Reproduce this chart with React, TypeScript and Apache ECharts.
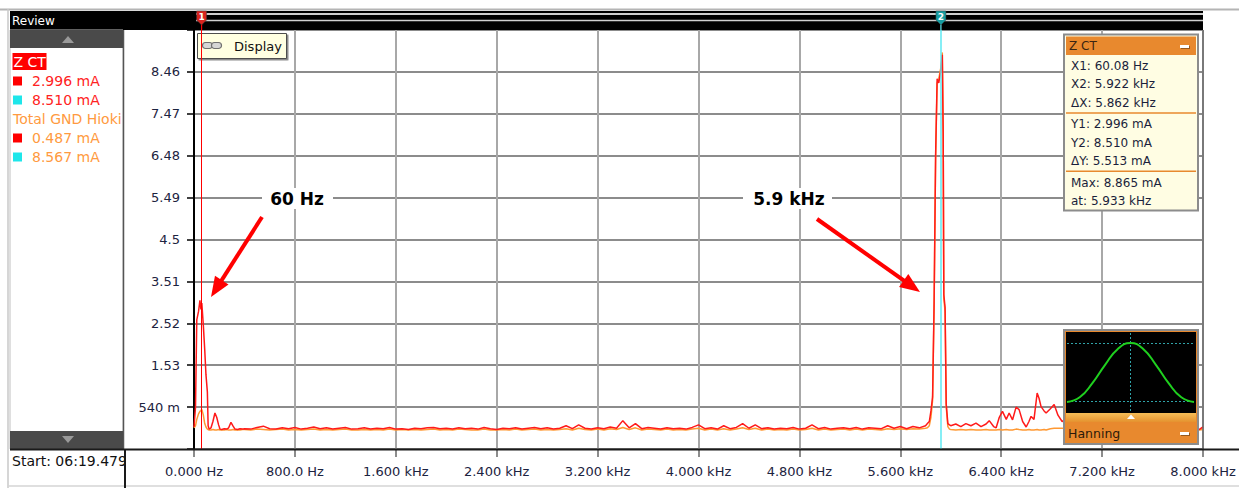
import React, { useEffect, useRef } from "react";
import * as echarts from "echarts";

// ---- axes -------------------------------------------------------------
const xMax = 8000;
const xStep = 800;
const xTickLabels = [
  "0.000 Hz", "800.0 Hz", "1.600 kHz", "2.400 kHz", "3.200 kHz", "4.000 kHz",
  "4.800 kHz", "5.600 kHz", "6.400 kHz", "7.200 kHz", "8.000 kHz",
];
const yMin = -0.45;
const yMax = 9.45;
const yStep = 0.99;
const yTickValues = [0.54, 1.53, 2.52, 3.51, 4.5, 5.49, 6.48, 7.47, 8.46];
const yTickLabels = ["540 m", "1.53", "2.52", "3.51", "4.5", "5.49", "6.48", "7.47", "8.46"];

// ---- spectrum (Hz / mA) ------------------------------------------------
// 0 – 400 Hz, around the mains line
const freqLow = [0, 12, 22, 36, 47, 55, 62, 74, 85, 95, 106, 112, 120, 135, 150, 166, 180, 195, 206, 220, 240, 260, 275, 293, 310, 325, 345, 365, 385];
const zctLow = [0.07, 0.54, 2.6, 2.8, 3.06, 2.85, 2.996, 2.47, 1.9, 1.3, 0.9, 0.1, 0.02, 0.05, 0.2, 0.4, 0.3, 0.12, 0.02, 0.01, 0.03, 0.02, 0.05, 0.18, 0.09, 0.02, 0.01, 0.03, 0.02];
const gndLow = [0.05, 0.1, 0.25, 0.38, 0.44, 0.46, 0.487, 0.35, 0.15, 0.07, 0.02, 0.01, 0.0, 0.0, 0.01, 0.0, 0.0, 0.01, 0.0, 0.0, 0.0, 0.01, 0.0, 0.0, 0.01, 0.0, 0.0, 0.0, 0.01];

// 400 – 5750 Hz noise floor
const freqMid = [
  400, 450, 500, 550, 600, 650, 700, 750, 800, 850,
  900, 950, 1000, 1050, 1100, 1150, 1200, 1250, 1300, 1350,
  1400, 1450, 1500, 1550, 1600, 1650, 1700, 1750, 1800, 1850,
  1900, 1950, 2000, 2050, 2100, 2150, 2200, 2250, 2300, 2350,
  2400, 2450, 2500, 2550, 2600, 2650, 2700, 2750, 2800, 2850,
  2900, 2950, 3000, 3050, 3100, 3150, 3200, 3250, 3300, 3350,
  3400, 3450, 3500, 3550, 3600, 3650, 3700, 3750, 3800, 3850,
  3900, 3950, 4000, 4050, 4100, 4150, 4200, 4250, 4300, 4350,
  4400, 4450, 4500, 4550, 4600, 4650, 4700, 4750, 4800, 4850,
  4900, 4950, 5000, 5050, 5100, 5150, 5200, 5250, 5300, 5350,
  5400, 5450, 5500, 5550, 5600, 5650, 5700, 5750,
];
const zctMid = [
  0.03, 0.02, 0.06, 0.09, 0.03, 0.02, 0.05, 0.03, 0.06, 0.02,
  0.04, 0.07, 0.03, 0.05, 0.02, 0.04, 0.06, 0.02, 0.03, 0.05,
  0.02, 0.04, 0.03, 0.06, 0.02, 0.03, 0.01, 0.04, 0.03, 0.05,
  0.06, 0.03, 0.04, 0.02, 0.05, 0.03, 0.04, 0.02, 0.06, 0.03,
  0.01, 0.04, 0.03, 0.05, 0.02, 0.04, 0.06, 0.03, 0.05, 0.02,
  0.04, 0.1, 0.03, 0.12, 0.04, 0.02, 0.05, 0.03, 0.07, 0.04,
  0.22, 0.05, 0.15, 0.03, 0.06, 0.04, 0.02, 0.05, 0.03, 0.04,
  0.02, 0.06, 0.12, 0.03, 0.05, 0.02, 0.1, 0.03, 0.06, 0.15,
  0.04, 0.12, 0.03, 0.05, 0.02, 0.04, 0.03, 0.06, 0.02, 0.04,
  0.12, 0.03, 0.06, 0.02, 0.04, 0.05, 0.03, 0.06, 0.02, 0.05,
  0.04, 0.03, 0.1, 0.04, 0.08, 0.03, 0.08, 0.05,
];
const gndMid = [
  0.01, 0.0, 0.02, 0.01, 0.0, 0.01, 0.02, 0.0, 0.01, 0.0,
  0.01, 0.02, 0.0, 0.01, 0.0, 0.01, 0.02, 0.0, 0.0, 0.01,
  0.0, 0.01, 0.0, 0.02, 0.0, 0.01, 0.0, 0.01, 0.0, 0.01,
  0.02, 0.0, 0.01, 0.0, 0.02, 0.01, 0.0, 0.0, 0.02, 0.0,
  0.0, 0.01, 0.0, 0.02, 0.0, 0.01, 0.02, 0.0, 0.01, 0.0,
  0.01, 0.03, 0.0, 0.04, 0.01, 0.0, 0.02, 0.0, 0.03, 0.01,
  0.06, 0.01, 0.05, 0.0, 0.02, 0.01, 0.0, 0.02, 0.0, 0.01,
  0.0, 0.02, 0.04, 0.0, 0.02, 0.0, 0.03, 0.0, 0.02, 0.05,
  0.01, 0.04, 0.0, 0.02, 0.0, 0.01, 0.0, 0.02, 0.0, 0.01,
  0.04, 0.0, 0.02, 0.0, 0.01, 0.02, 0.0, 0.02, 0.0, 0.02,
  0.01, 0.0, 0.03, 0.01, 0.03, 0.01, 0.03, 0.02,
];

// 5.8 – 6.0 kHz, the switching line
const freqPeak = [5800, 5815, 5830, 5843, 5856, 5868, 5880, 5892, 5905, 5922, 5933, 5940, 5945, 5955, 5964, 5977, 5990];
const zctPeak = [0.1, 0.15, 0.2, 0.45, 0.78, 3.0, 6.5, 8.3, 8.2, 8.51, 8.865, 7.0, 3.2, 2.9, 0.62, 0.15, 0.12];
const gndPeak = [0.04, 0.05, 0.1, 0.3, 0.7, 2.9, 6.4, 8.2, 8.3, 8.567, 8.92, 7.1, 3.1, 2.8, 0.55, 0.08, 0.02];

// 6.0 – 8.0 kHz
const freqHigh = [
  6000, 6040, 6080, 6120, 6160, 6200, 6240, 6280, 6305, 6340,
  6360, 6385, 6410, 6440, 6463, 6490, 6518, 6542, 6570, 6598,
  6620, 6637, 6660, 6685, 6700, 6716, 6740, 6756, 6790, 6820,
  6850, 6883, 6920, 6960, 7000, 7080, 7160, 7240, 7320, 7400,
  7480, 7560, 7640, 7720, 7800, 7880, 7940, 7968, 8000,
];
const zctHigh = [
  0.1, 0.14, 0.08, 0.15, 0.1, 0.16, 0.08, 0.14, 0.22, 0.08,
  0.05, 0.3, 0.44, 0.25, 0.4, 0.24, 0.54, 0.48, 0.2, 0.07,
  0.2, 0.32, 0.25, 0.87, 0.75, 0.55, 0.45, 0.4, 0.5, 0.6,
  0.35, 0.2, 0.25, 0.15, 0.2, 0.12, 0.18, 0.1, 0.15, 0.08,
  0.12, 0.06, 0.1, 0.05, 0.08, 0.04, 0.03, 0.01, 0.07,
];
const gndHigh = [
  0.01, 0.0, 0.01, 0.0, 0.01, 0.0, 0.0, 0.01, 0.0, 0.0,
  0.0, 0.01, 0.0, 0.01, 0.0, 0.0, 0.02, 0.01, 0.0, 0.0,
  0.01, 0.0, 0.0, 0.01, 0.0, 0.0, 0.01, 0.0, 0.03, 0.04,
  0.04, 0.04, 0.03, 0.04, 0.05, 0.04, 0.03, 0.04, 0.03, 0.02,
  0.03, 0.02, 0.02, 0.01, 0.02, 0.01, 0.01, 0.0, 0.01,
];

// ---- cursors and readouts ----------------------------------------------
const cursorFreqs = [60.08, 5922];
const zctCursorValues = [2.996, 8.51];
const gndCursorValues = [0.487, 8.567];
const zctReadout = [
  ["X1: 60.08 Hz", "X2: 5.922 kHz", "\u0394X: 5.862 kHz"],
  ["Y1: 2.996 mA", "Y2: 8.510 mA", "\u0394Y: 5.513 mA"],
  ["Max: 8.865 mA", "at: 5.933 kHz"],
];
const startTime = "Start: 06:19.479";

// Hanning window preview (normalised position / gain)
const hanningPos = [0, 0.1, 0.2, 0.3, 0.4, 0.5, 0.6, 0.7, 0.8, 0.9, 1];
const hanningGain = [0, 0.08, 0.32, 0.63, 0.9, 1, 0.9, 0.63, 0.32, 0.08, 0];

const FONT = '"DejaVu Sans", Verdana, sans-serif';
const RED = "#ff1a1a";
const ORANGE = "#ff9933";
const CURSOR_COLORS = ["#ff0000", "#5ee9f2"];
const HANDLE_COLORS = ["#d8241f", "#169ca0"];

const zip = (xs: number[], ys: number[]) => xs.map((x, i) => [x, ys[i]]);

function text(x: number, y: number, s: string, fill: string, size: number, extra: any = {}) {
  return {
    type: "text",
    x,
    y,
    z: extra.z ?? 50,
    silent: true,
    style: {
      text: s,
      fill,
      fontSize: size,
      fontFamily: extra.family ?? FONT,
      fontWeight: extra.weight ?? "normal",
      align: extra.align ?? "left",
      verticalAlign: "middle",
    },
  };
}

function rect(x: number, y: number, w: number, h: number, style: any, z = 50) {
  return { type: "rect", z, silent: true, shape: { x, y, width: w, height: h }, style };
}

function line(x1: number, y1: number, x2: number, y2: number, stroke: string, lineWidth: number, z = 50, lineDash?: number[]) {
  return { type: "line", z, silent: true, shape: { x1, y1, x2, y2 }, style: { stroke, lineWidth, lineDash } };
}

function arrow(x0: number, y0: number, x1: number, y1: number) {
  const dx = x1 - x0;
  const dy = y1 - y0;
  const len = Math.hypot(dx, dy);
  const ux = dx / len;
  const uy = dy / len;
  const head = 20;
  const half = 8;
  const bx = x1 - ux * head;
  const by = y1 - uy * head;
  return [
    line(x0, y0, bx + ux * 3, by + uy * 3, "#ff0000", 4, 50),
    {
      type: "polygon",
      z: 50,
      silent: true,
      shape: { points: [[x1, y1], [bx - uy * half, by + ux * half], [bx + uy * half, by - ux * half]] },
      style: { fill: "#ff0000" },
    },
  ];
}

function minusIcon(x: number, y: number) {
  return rect(x, y, 9, 3, { fill: "#ffffff", shadowColor: "rgba(0,0,0,0.35)", shadowOffsetX: 1, shadowOffsetY: 1 }, 52);
}

export default function App() {
  const ref = useRef<HTMLDivElement>(null);

  useEffect(() => {
    const el = ref.current;
    if (!el) return;
    const chart = echarts.init(el, null, { renderer: "svg" });

    const freqAll = [...freqLow, ...freqMid, ...freqPeak, ...freqHigh];
    const zctAll = [...zctLow, ...zctMid, ...zctPeak, ...zctHigh];
    const gndAll = [...gndLow, ...gndMid, ...gndPeak, ...gndHigh];

    chart.setOption({
      animation: false,
      backgroundColor: "#ffffff",
      grid: [
        { left: 194, right: 36, top: 30, bottom: 39 },
        { left: 1067, top: 343, width: 127, height: 59 },
      ],
      xAxis: [
        {
          type: "value",
          min: 0,
          max: xMax,
          interval: xStep,
          axisLine: { show: false, onZero: false },
          axisTick: { show: true, length: 8, lineStyle: { color: "#8c8c8c", width: 2 } },
          axisLabel: {
            margin: 16,
            color: "#1c2340",
            fontSize: 13,
            fontFamily: FONT,
            formatter: (v: number) => {
              const i = Math.round(v / xStep);
              return Math.abs(i * xStep - v) < 1e-6 ? xTickLabels[i] ?? "" : "";
            },
          },
          splitLine: { show: true, lineStyle: { color: "#a8a8a8", width: 2 } },
        },
        { type: "value", gridIndex: 1, min: 0, max: 1, show: false },
      ],
      yAxis: [
        {
          type: "value",
          min: yMin,
          max: yMax,
          interval: yStep,
          axisLine: { show: true, onZero: false, lineStyle: { color: "#000000", width: 2 } },
          axisTick: { show: true, length: 7, lineStyle: { color: "#000000", width: 1.5 } },
          axisLabel: {
            margin: 14,
            color: "#1c2340",
            fontSize: 13,
            fontFamily: FONT,
            formatter: (v: number) => {
              const i = yTickValues.findIndex((t) => Math.abs(t - v) < 1e-6);
              return i >= 0 ? yTickLabels[i] : "";
            },
          },
          splitLine: { show: true, lineStyle: { color: "#8c8c8c", width: 2 } },
        },
        { type: "value", gridIndex: 1, min: 0, max: 1, show: false },
      ],
      series: [
        {
          name: "Total GND Hioki",
          type: "line",
          data: zip(freqAll, gndAll),
          showSymbol: false,
          silent: true,
          z: 3,
          lineStyle: { color: ORANGE, width: 1.5 },
          itemStyle: { color: ORANGE },
        },
        {
          name: "Z CT",
          type: "line",
          data: zip(freqAll, zctAll),
          showSymbol: false,
          silent: true,
          z: 4,
          lineStyle: { color: RED, width: 1.5 },
          itemStyle: { color: RED },
          markLine: {
            silent: true,
            symbol: ["none", "none"],
            label: { show: false },
            data: cursorFreqs.map((f, i) => ({
              xAxis: f,
              lineStyle: { color: CURSOR_COLORS[i], width: i === 0 ? 1 : 1.5, type: "solid" },
            })),
          },
        },
        {
          name: "Hanning",
          type: "line",
          xAxisIndex: 1,
          yAxisIndex: 1,
          data: zip(hanningPos, hanningGain),
          smooth: true,
          showSymbol: false,
          silent: true,
          z: 60,
          lineStyle: { color: "#1fd01f", width: 2 },
        },
      ],
    });

    const g: any[] = [];

    // page frame
    g.push(line(0, 9.5, 1239, 9.5, "#b4b4b4", 2, 40));
    g.push(line(8, 9, 8, 488, "#c8c8c8", 1.5, 40));
    g.push(line(8, 486, 1239, 486, "#d4d4d4", 1.5, 40));

    // title bar with cursor track
    g.push(rect(10, 11, 1193, 19, { fill: "#000000" }, 45));
    g.push(text(12, 21, "Review", "#ffffff", 12, { z: 46 }));
    g.push(line(196, 14, 1203, 14, "#cfcfcf", 2, 46));
    g.push(line(196, 20.5, 1203, 20.5, "#cfcfcf", 1.5, 46));

    // legend panel
    g.push(rect(10, 30, 113, 419, { fill: "#ffffff", stroke: "#c0c0c0", lineWidth: 1 }, 45));
    g.push(line(123.5, 30, 123.5, 449, "#555555", 1.5, 46));
    g.push(rect(10, 30, 113, 18, { fill: "#4a4a4a" }, 46));
    g.push({ type: "polygon", z: 47, silent: true, shape: { points: [[68, 36], [74, 43], [62, 43]] }, style: { fill: "#9a9a9a" } });
    g.push(rect(10, 431, 113, 18, { fill: "#4a4a4a" }, 46));
    g.push({ type: "polygon", z: 47, silent: true, shape: { points: [[62, 436], [74, 436], [68, 443]] }, style: { fill: "#9a9a9a" } });

    const legendGroups = [
      { name: "Z CT", values: zctCursorValues, color: "#ff2222", header: "#ff0000" },
      { name: "Total GND Hioki", values: gndCursorValues, color: "#ff9a40", header: "" },
    ];
    let rowY = 62;
    legendGroups.forEach((grp) => {
      if (grp.header) {
        g.push(rect(12.5, rowY - 9, 34, 17, { fill: grp.header }, 47));
        g.push(text(13.5, rowY, grp.name, "#ffffff", 14, { z: 48 }));
      } else {
        g.push(text(13, rowY, grp.name, grp.color, 14, { z: 48 }));
      }
      rowY += 19;
      grp.values.forEach((v, i) => {
        g.push(rect(13, rowY - 4.5, 9, 9, { fill: i === 0 ? "#ff0000" : "#1ee6ea" }, 47));
        g.push(text(32, rowY, `${v.toFixed(3)} mA`, grp.color, 14, { z: 48 }));
        rowY += 19;
      });
    });

    // bottom strip
    g.push(line(10, 449.5, 1239, 449.5, "#1a1a1a", 2, 48));
    g.push(text(12, 461, startTime, "#111111", 14, { z: 48 }));
    g.push(rect(124, 451, 40, 33, { fill: "#ffffff" }, 49));
    g.push(line(125, 449, 125, 488, "#1a1a1a", 2, 50));
    g.push(line(1203, 30, 1203, 449, "#6a6a6a", 1.5, 44));

    // "Display" button
    g.push(rect(197.5, 33.5, 89, 25, { fill: "#ffffe1", stroke: "#4d4d4d", lineWidth: 1, shadowColor: "rgba(0,0,0,0.45)", shadowOffsetX: 1.5, shadowOffsetY: 1.5 }, 1));
    g.push({ type: "rect", z: 2, silent: true, shape: { x: 202.5, y: 42.5, width: 10, height: 6, r: 3 }, style: { fill: "#d6d6d6", stroke: "#707070", lineWidth: 1.2 } });
    g.push({ type: "rect", z: 2, silent: true, shape: { x: 211.5, y: 42.5, width: 10, height: 6, r: 3 }, style: { fill: "#d6d6d6", stroke: "#707070", lineWidth: 1.2 } });
    g.push(text(234, 46.5, "Display", "#111111", 13, { z: 2 }));

    // Z CT readout box
    g.push(rect(1064, 34.5, 134, 176, { fill: "#fffde3", stroke: "#8c8c8c", lineWidth: 2 }, 50));
    g.push(rect(1066, 36.5, 130, 18.5, { fill: "#e8892e" }, 51));
    g.push(text(1069, 46, "Z CT", "#3a2412", 12, { z: 52 }));
    g.push(minusIcon(1180, 45));
    let ry = 66;
    zctReadout.forEach((block, bi) => {
      block.forEach((s) => {
        g.push(text(1071, ry, s, "#1b1f3b", 12, { z: 52 }));
        ry += 18.3;
      });
      if (bi < zctReadout.length - 1) {
        g.push(line(1066, ry - 8, 1196, ry - 8, "#e8892e", 1.5, 52));
        ry += 3.5;
      }
    });

    // Hanning window panel
    g.push(rect(1064, 330, 134, 114, { fill: "#e8892e", stroke: "#8c8c8c", lineWidth: 2 }, 50));
    g.push(rect(1066, 332, 130, 81, { fill: "#000000" }, 51));
    g.push(rect(1066, 413, 130, 9, {
      fill: new echarts.graphic.LinearGradient(0, 0, 0, 1, [
        { offset: 0, color: "#f6bd57" },
        { offset: 1, color: "#e5922f" },
      ]),
    }, 51));
    g.push({ type: "polygon", z: 52, silent: true, shape: { points: [[1131, 414.5], [1135, 419], [1127, 419]] }, style: { fill: "#ffffff" } });
    g.push(line(1067, 343.5, 1194, 343.5, "#2fa3a8", 1, 52, [2, 2]));
    g.push(line(1067, 401.5, 1194, 401.5, "#2fa3a8", 1, 52, [2, 2]));
    g.push(line(1130.5, 333, 1130.5, 413, "#2fa3a8", 1, 52, [2, 2]));
    g.push(text(1068, 433, "Hanning", "#2b1a0a", 12.5, { z: 52 }));
    g.push(minusIcon(1180, 432));

    // annotations
    g.push(rect(262, 188, 71, 21, { fill: "#ffffff" }, 49));
    g.push(text(297, 198.5, "60 Hz", "#000000", 17, { z: 50, weight: "bold", align: "center" }));
    g.push(...arrow(262, 217, 211, 297));
    g.push(rect(743, 188, 89, 21, { fill: "#ffffff" }, 49));
    g.push(text(789, 198.5, "5.9 kHz", "#000000", 17, { z: 50, weight: "bold", align: "center" }));
    g.push(...arrow(817, 219, 920, 292));

    // cursor handles on the track
    cursorFreqs.forEach((f, i) => {
      const px = chart.convertToPixel({ xAxisIndex: 0 }, f) as number;
      g.push(line(px, 24, px, 30, CURSOR_COLORS[i], 1.2, 55));
      g.push({
        type: "polygon",
        z: 56,
        silent: true,
        shape: { points: [[px - 5, 11], [px + 5, 11], [px + 5, 20], [px, 25], [px - 5, 20]] },
        style: { fill: HANDLE_COLORS[i], stroke: "#3a3a3a", lineWidth: 0.5 },
      });
      g.push(text(px, 16.5, String(i + 1), "#ffffff", 9, { z: 57, weight: "bold", align: "center" }));
    });

    chart.setOption({ graphic: { elements: g } });

    return () => chart.dispose();
  }, []);

  return (
    <div
      ref={ref}
      style={{ position: "absolute", left: 0, top: 0, width: 1239, height: 488, background: "#ffffff" }}
    />
  );
}
